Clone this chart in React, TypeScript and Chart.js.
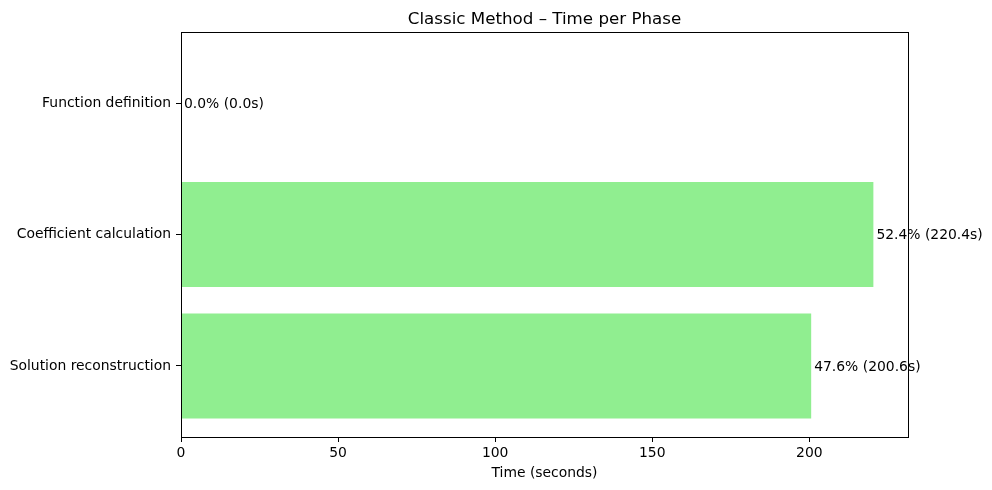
import React, { useEffect, useRef } from "react";
import { Chart, registerables } from "chart.js";

Chart.register(...registerables);

const categories = ["Function definition", "Coefficient calculation", "Solution reconstruction"];
const seconds = [0.0, 220.4, 200.6];
const percents = [0.0, 52.4, 47.6];
const xTicks = [0, 50, 100, 150, 200];
const titleText = "Classic Method \u2013 Time per Phase";
const xTitle = "Time (seconds)";

const FONT = "'DejaVu Sans', sans-serif";

export default function App() {
  const ref = useRef<HTMLCanvasElement | null>(null);
  useEffect(() => {
    if (!ref.current) return;
    const framePlugin = {
      id: "frameAndLabels",
      afterDatasetsDraw(chart: any) {
        const ctx = chart.ctx;
        const a = chart.chartArea;
        ctx.save();
        ctx.strokeStyle = "#000";
        ctx.lineWidth = 1;
        ctx.strokeRect(Math.round(a.left) + 0.5, Math.round(a.top) + 0.5, Math.round(a.right - a.left), Math.round(a.bottom - a.top));
        ctx.fillStyle = "#000";
        ctx.font = `13.9px ${FONT}`;
        ctx.textAlign = "left";
        ctx.textBaseline = "middle";
        const meta = chart.getDatasetMeta(0);
        meta.data.forEach((bar: any, i: number) => {
          ctx.fillText(`${percents[i].toFixed(1)}% (${seconds[i].toFixed(1)}s)`, bar.x + 3, bar.y + 1);
        });
        ctx.font = `16.7px ${FONT}`;
        ctx.textAlign = "center";
        ctx.textBaseline = "alphabetic";
        ctx.fillText(titleText, (a.left + a.right) / 2, 24);
        ctx.restore();
      },
    };
    const chart = new Chart(ref.current, {
      type: "bar",
      data: {
        labels: categories,
        datasets: [
          {
            data: categories.map((c, i) => ({ x: seconds[i], y: i })),
            backgroundColor: "#90EE90",
            borderWidth: 0,
            barPercentage: 0.8,
            categoryPercentage: 1,
          },
        ],
      },
      options: {
        indexAxis: "y",
        animation: false,
        responsive: false,
        maintainAspectRatio: false,
        layout: { padding: { top: 32, right: 84, left: 0, bottom: 0 } },
        plugins: { legend: { display: false }, tooltip: { enabled: false }, title: { display: false } },
        scales: {
          y: {
            type: "linear",
            bounds: "data",
            offset: false,
            reverse: true,
            min: -0.54,
            max: 2.54,
            afterFit(scale: any) {
              scale.width = 181;
            },
            afterBuildTicks(scale: any) {
              scale.ticks = categories.map((_, i) => ({ value: i }));
            },
            ticks: {
              color: "#000",
              font: { family: FONT, size: 13.9 },
              padding: 5,
              autoSkip: false,
              callback: (v: any) => categories[v as number] ?? "",
            },
            grid: { offset: false, drawOnChartArea: false, tickLength: 5, color: "#000", tickColor: "#000" },
            border: { display: false },
          },
          x: {
            type: "linear",
            bounds: "data",
            min: 0,
            max: 231.42,
            afterFit(scale: any) {
              scale.height = 53;
            },
            afterBuildTicks(scale: any) {
              scale.ticks = xTicks.map((v) => ({ value: v }));
            },
            ticks: {
              color: "#000",
              font: { family: FONT, size: 13.9 },
              padding: 3,
              maxRotation: 0,
              autoSkip: false,
            },
            grid: { drawOnChartArea: false, tickLength: 5, color: "#000", tickColor: "#000" },
            border: { display: false },
            title: {
              display: true,
              text: xTitle,
              color: "#000",
              font: { family: FONT, size: 13.9 },
              padding: { top: 0, bottom: 8 },
            },
          },
        },
      },
      plugins: [framePlugin],
    } as any);
    return () => chart.destroy();
  }, []);
  return (
    <div style={{ position: "fixed", left: 0, top: 0, width: 992, height: 490, background: "#fff" }}>
      <canvas ref={ref} width={992} height={490} style={{ width: 992, height: 490, display: "block" }} />
    </div>
  );
}
